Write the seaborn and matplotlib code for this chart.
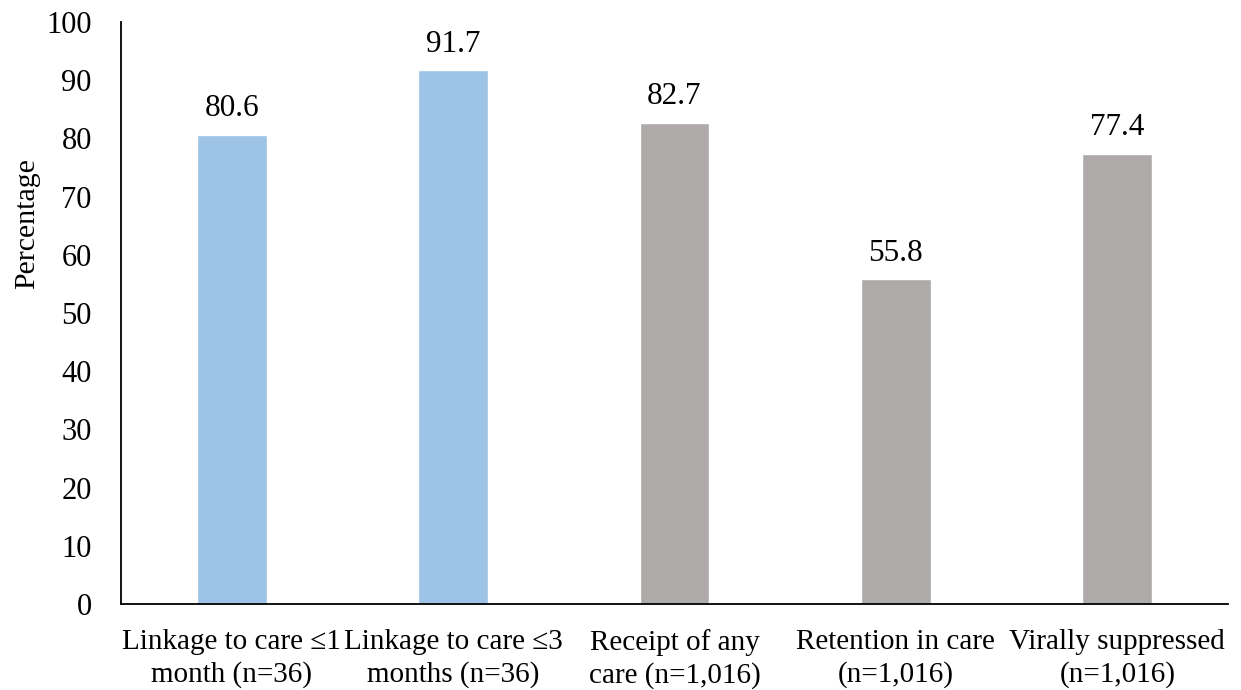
import matplotlib
matplotlib.use("Agg")
import matplotlib.pyplot as plt
import seaborn as sns
import pandas as pd

categories = [
    "Linkage to care \u22641\nmonth (n=36)",
    "Linkage to care \u22643\nmonths (n=36)",
    "Receipt of any\ncare (n=1,016)",
    "Retention in care\n(n=1,016)",
    "Virally suppressed\n(n=1,016)",
]
values = [80.6, 91.7, 82.7, 55.8, 77.4]
bar_colors = ["#9DC3E6", "#9DC3E6", "#AEAAAA", "#AEAAAA", "#AEAAAA"]
y_ticks = [0, 10, 20, 30, 40, 50, 60, 70, 80, 90, 100]

sns.set_theme(style="white")
plt.rcParams["font.family"] = ["Liberation Serif", "DejaVu Serif"]

df = pd.DataFrame({"category": categories, "value": values})

fig = plt.figure(figsize=(12.41, 6.90), dpi=100)
ax = fig.add_axes([0.0975, 0.1246, 0.892, 0.8435])

sns.barplot(data=df, x="category", y="value", hue="category",
            palette=bar_colors, legend=False, width=0.315,
            saturation=1, ax=ax)

for i, v in enumerate(values):
    ax.text(i, v + 2.0, f"{v:.1f}", ha="center", va="bottom",
            fontsize=22.5, color="black")

ax.set_ylim(0, 100)
ax.set_yticks(y_ticks)
ax.tick_params(axis="y", labelsize=22, length=0, pad=21, labelcolor="black")
ax.tick_params(axis="x", labelsize=21, length=0, pad=18, labelcolor="black")
for lbl in ax.get_xticklabels():
    lbl.set_linespacing(1.3)
ax.set_xlabel("")
ax.set_ylabel("Percentage", fontsize=21.5, color="black")
ax.yaxis.set_label_coords(-0.073, 0.653)

for side in ["top", "right"]:
    ax.spines[side].set_visible(False)
for side in ["left", "bottom"]:
    ax.spines[side].set_color("black")
    ax.spines[side].set_linewidth(1.3)

fig.savefig("out.png", dpi=100, facecolor="white")
